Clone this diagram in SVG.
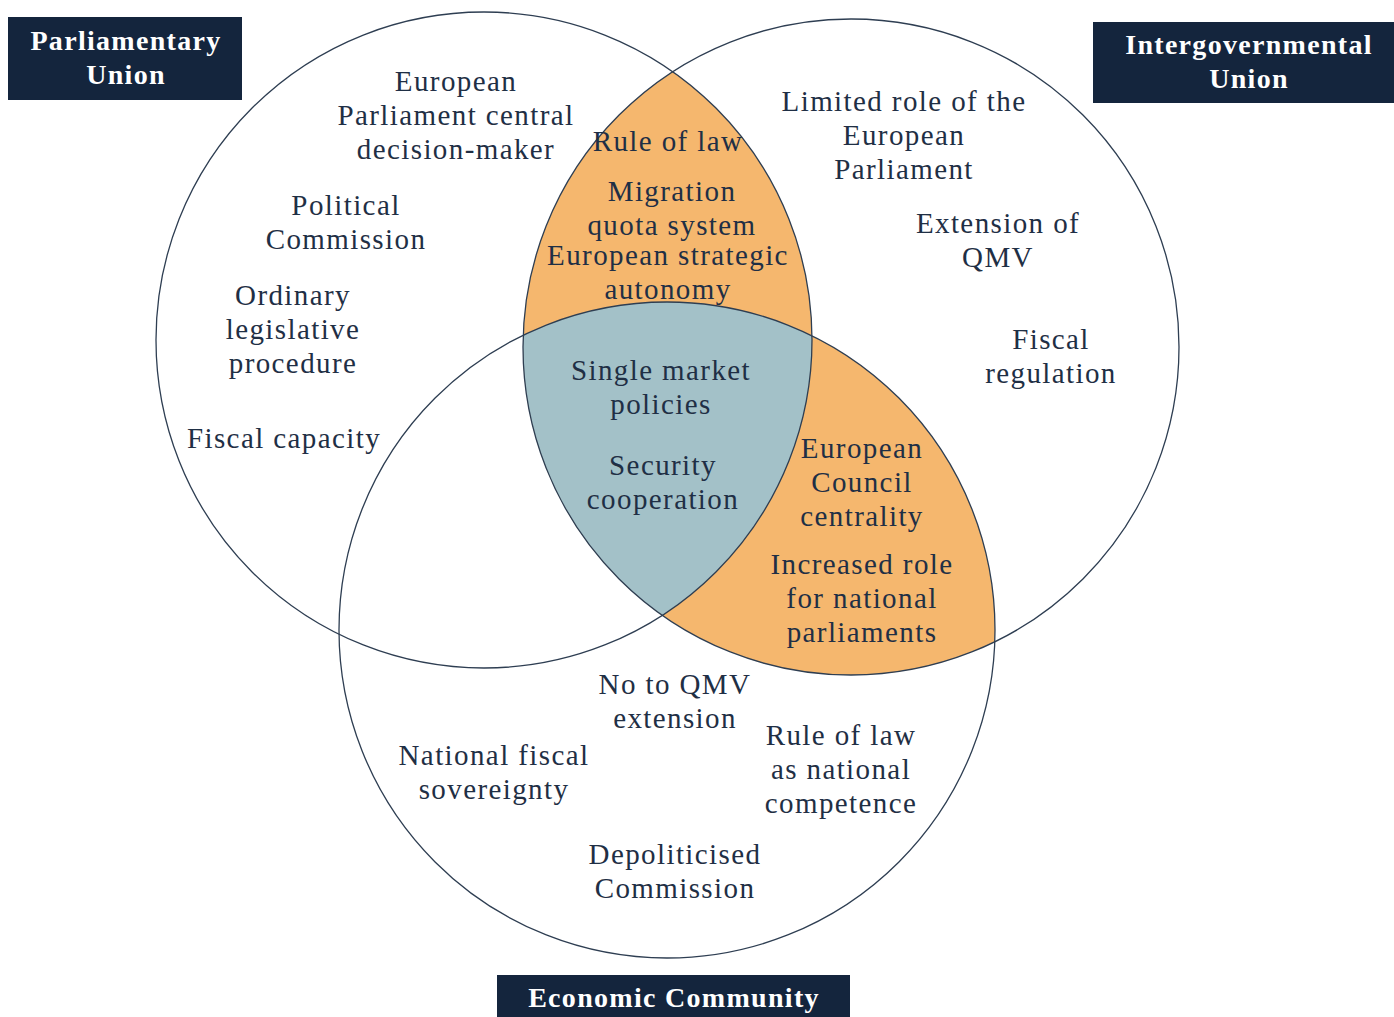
<svg xmlns="http://www.w3.org/2000/svg" width="1394" height="1017" viewBox="0 0 1394 1017">
  <style>
    .ring { fill: none; stroke: #2e3e52; stroke-width: 1.3; }
    .lbl { font-family: "Liberation Serif", "DejaVu Serif", serif; font-size: 29px; letter-spacing: 1.4px; fill: #1f2f45; text-anchor: middle; }
    .ttl { font-family: "Liberation Serif", "DejaVu Serif", serif; font-size: 28px; letter-spacing: 1.3px; font-weight: bold; fill: #ffffff; text-anchor: middle; }
    .box { fill: #14253d; }
  </style>
  <defs>
    <clipPath id="inParl"><circle cx="484" cy="340" r="328"/></clipPath>
    <clipPath id="inInter"><circle cx="851" cy="347" r="328"/></clipPath>
    <clipPath id="inEcon"><circle cx="667" cy="630" r="328"/></clipPath>
  </defs>

  <rect width="1394" height="1017" fill="#ffffff"/>

  <!-- overlap fills -->
  <g id="overlaps">
    <!-- Parliamentary ∩ Intergovernmental -->
    <circle cx="851" cy="347" r="328" fill="#f5b76e" clip-path="url(#inParl)"/>
    <!-- Intergovernmental ∩ Economic -->
    <circle cx="667" cy="630" r="328" fill="#f5b76e" clip-path="url(#inInter)"/>
    <!-- all three -->
    <g clip-path="url(#inParl)">
      <circle cx="667" cy="630" r="328" fill="#a3c1c8" clip-path="url(#inInter)"/>
    </g>
  </g>

  <!-- circle outlines -->
  <g id="circles">
    <circle id="parliamentary-circle" class="ring" cx="484" cy="340" r="328"/>
    <circle id="intergovernmental-circle" class="ring" cx="851" cy="347" r="328"/>
    <circle id="economic-circle" class="ring" cx="667" cy="630" r="328"/>
  </g>

  <!-- title boxes -->
  <g id="title-parliamentary">
    <rect class="box" x="8" y="17" width="234" height="83"/>
    <text class="ttl" x="126" y="50">Parliamentary</text>
    <text class="ttl" x="126" y="84">Union</text>
  </g>
  <g id="title-intergovernmental">
    <rect class="box" x="1093" y="22" width="301" height="81"/>
    <text class="ttl" x="1249" y="54">Intergovernmental</text>
    <text class="ttl" x="1249" y="88">Union</text>
  </g>
  <g id="title-economic">
    <rect class="box" x="497" y="975" width="353" height="42"/>
    <text class="ttl" x="674" y="1007">Economic Community</text>
  </g>

  <!-- Parliamentary Union only -->
  <g id="parliamentary-items">
    <text class="lbl" x="456" y="91">European</text>
    <text class="lbl" x="456" y="125">Parliament central</text>
    <text class="lbl" x="456" y="159">decision-maker</text>
    <text class="lbl" x="346" y="215">Political</text>
    <text class="lbl" x="346" y="249">Commission</text>
    <text class="lbl" x="293" y="305">Ordinary</text>
    <text class="lbl" x="293" y="339">legislative</text>
    <text class="lbl" x="293" y="373">procedure</text>
    <text class="lbl" x="284" y="448">Fiscal capacity</text>
  </g>

  <!-- Parliamentary ∩ Intergovernmental -->
  <g id="parl-inter-items">
    <text class="lbl" x="668" y="151">Rule of law</text>
    <text class="lbl" x="672" y="201">Migration</text>
    <text class="lbl" x="672" y="235">quota system</text>
    <text class="lbl" x="668" y="265">European strategic</text>
    <text class="lbl" x="668" y="299">autonomy</text>
  </g>

  <!-- Intergovernmental Union only -->
  <g id="intergovernmental-items">
    <text class="lbl" x="904" y="111">Limited role of the</text>
    <text class="lbl" x="904" y="145">European</text>
    <text class="lbl" x="904" y="179">Parliament</text>
    <text class="lbl" x="998" y="233">Extension of</text>
    <text class="lbl" x="998" y="267">QMV</text>
    <text class="lbl" x="1051" y="349">Fiscal</text>
    <text class="lbl" x="1051" y="383">regulation</text>
  </g>

  <!-- shared by all three -->
  <g id="common-items">
    <text class="lbl" x="661" y="380">Single market</text>
    <text class="lbl" x="661" y="414">policies</text>
    <text class="lbl" x="663" y="475">Security</text>
    <text class="lbl" x="663" y="509">cooperation</text>
  </g>

  <!-- Intergovernmental ∩ Economic -->
  <g id="inter-econ-items">
    <text class="lbl" x="862" y="458">European</text>
    <text class="lbl" x="862" y="492">Council</text>
    <text class="lbl" x="862" y="526">centrality</text>
    <text class="lbl" x="862" y="574">Increased role</text>
    <text class="lbl" x="862" y="608">for national</text>
    <text class="lbl" x="862" y="642">parliaments</text>
  </g>

  <!-- Economic Community only -->
  <g id="economic-items">
    <text class="lbl" x="675" y="694">No to QMV</text>
    <text class="lbl" x="675" y="728">extension</text>
    <text class="lbl" x="494" y="765">National fiscal</text>
    <text class="lbl" x="494" y="799">sovereignty</text>
    <text class="lbl" x="841" y="745">Rule of law</text>
    <text class="lbl" x="841" y="779">as national</text>
    <text class="lbl" x="841" y="813">competence</text>
    <text class="lbl" x="675" y="864">Depoliticised</text>
    <text class="lbl" x="675" y="898">Commission</text>
  </g>
</svg>
